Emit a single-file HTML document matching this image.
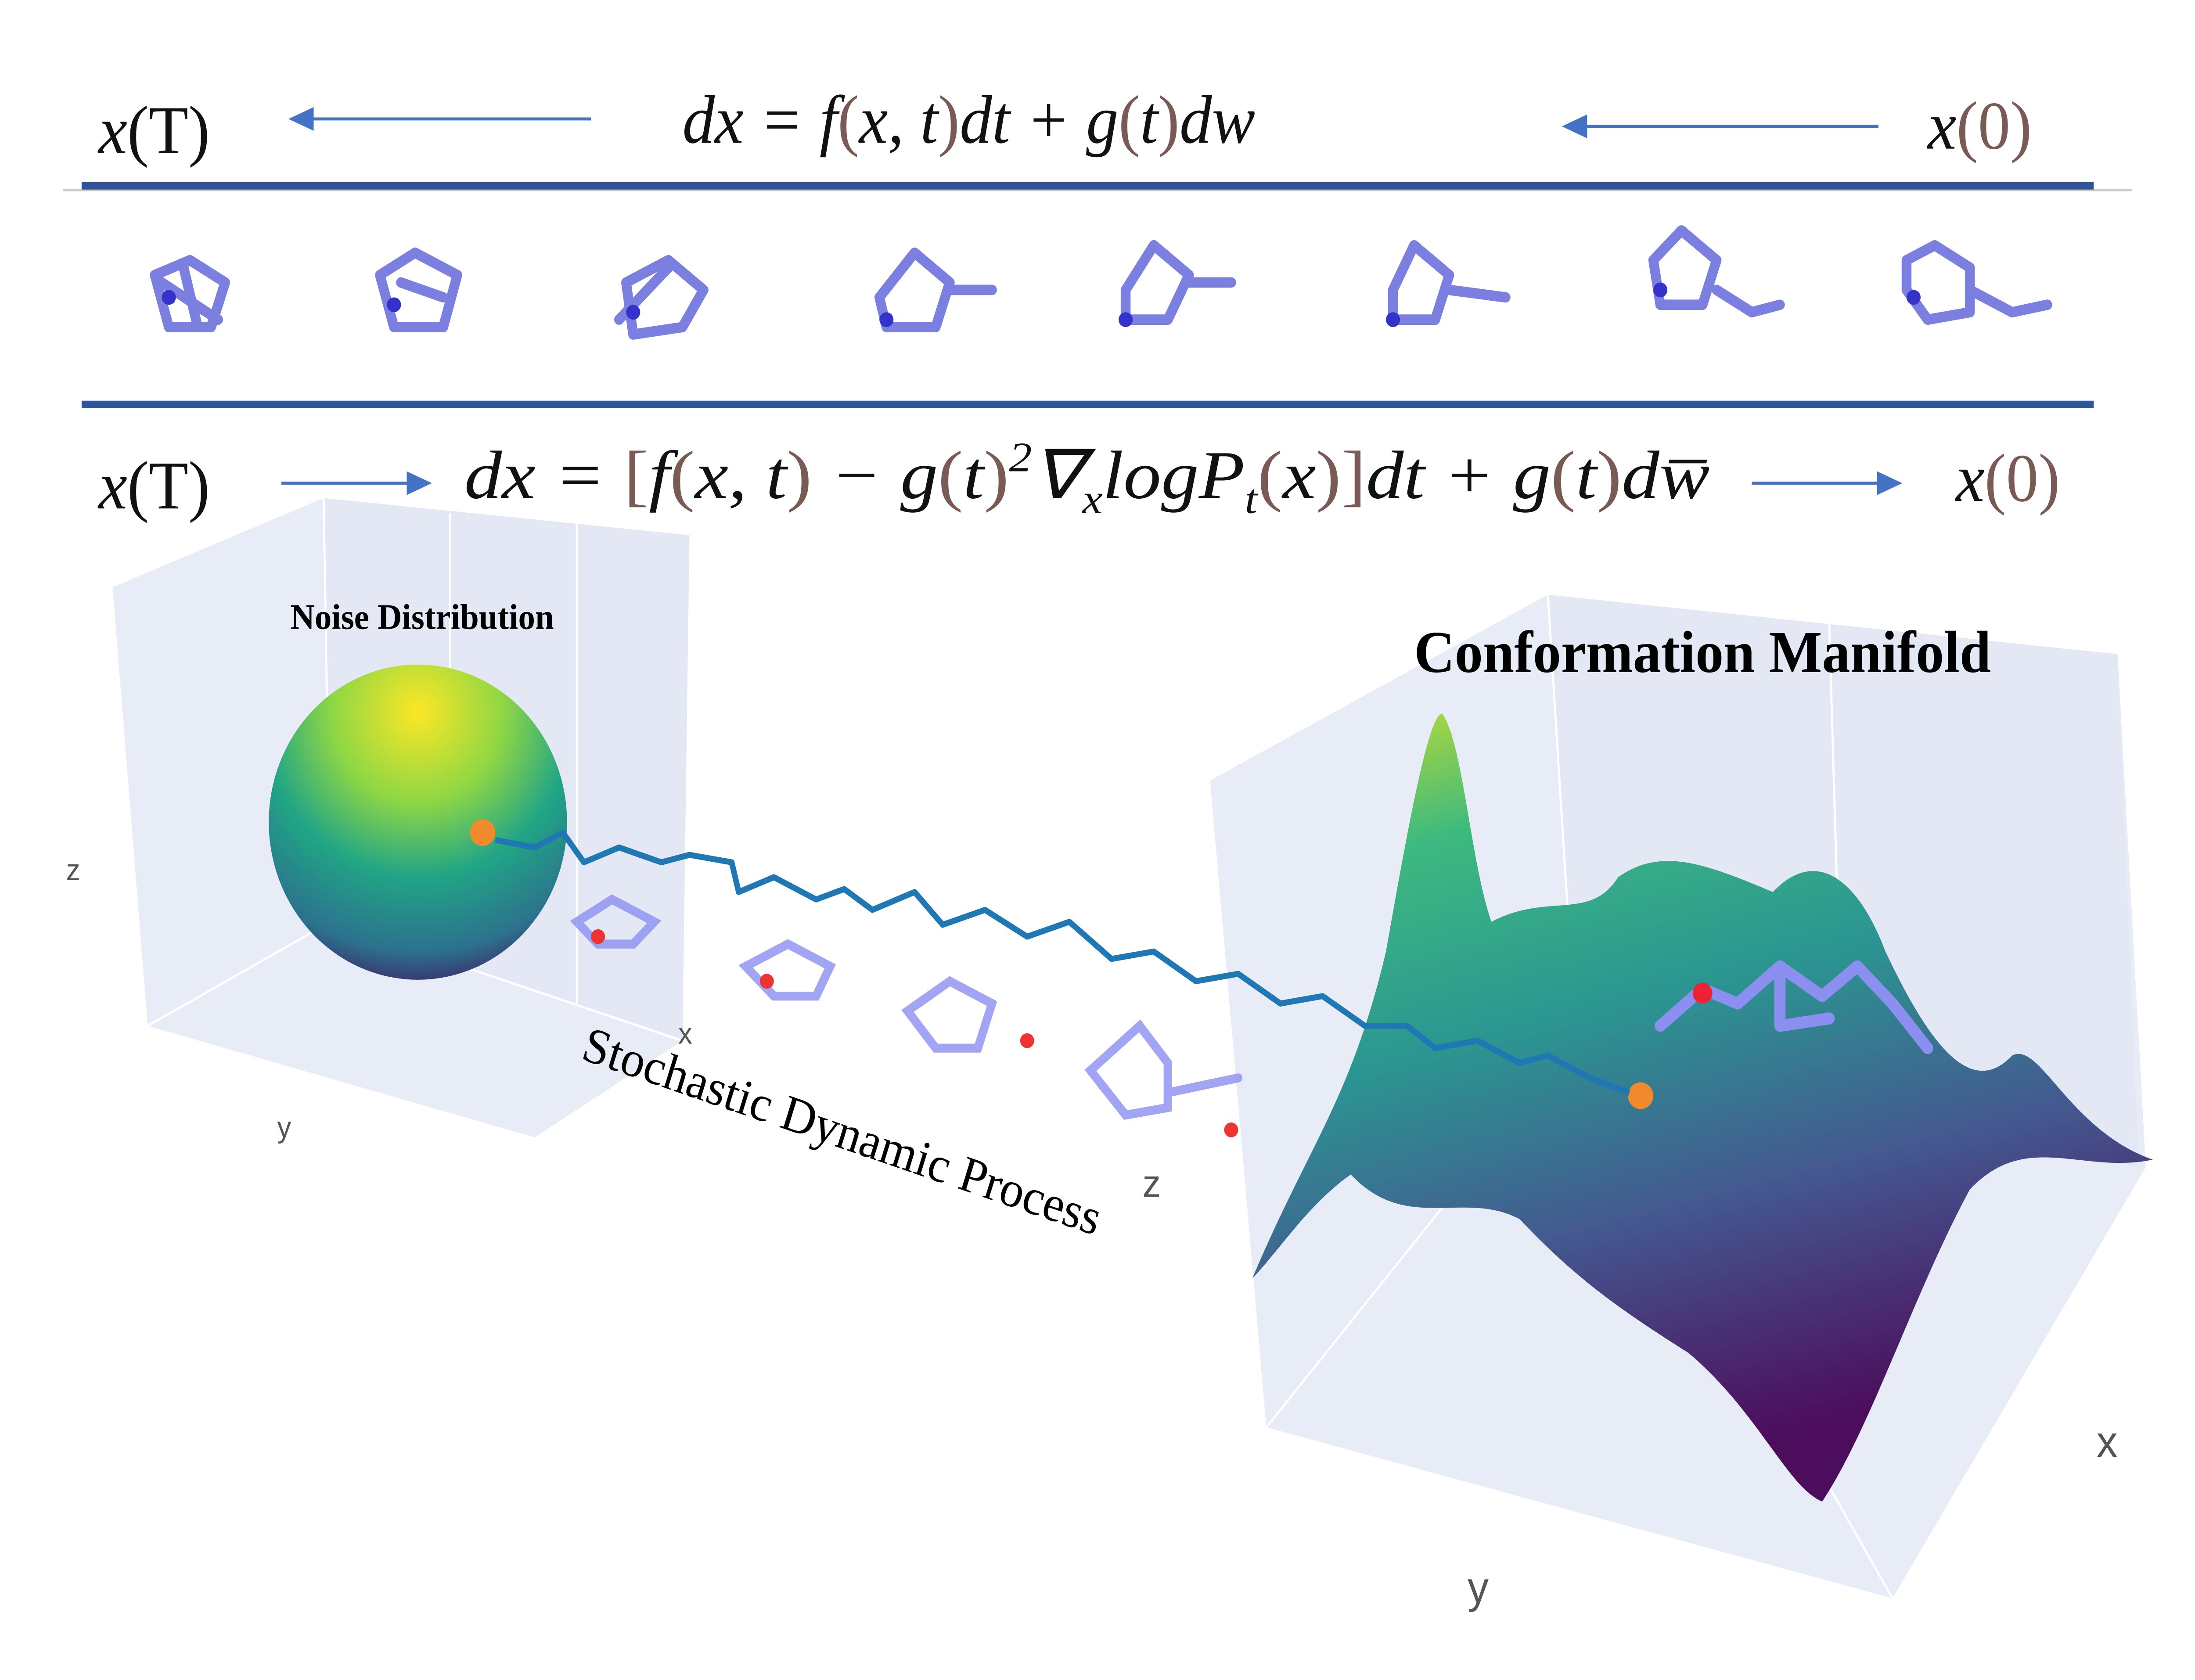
<!DOCTYPE html>
<html><head><meta charset="utf-8"><style>
html,body{margin:0;padding:0;background:#fff;width:100%;height:100%;overflow:hidden}
svg{display:block;position:fixed;left:0;top:0;width:100vw;height:100vh}
.eq{font-family:"Liberation Serif",serif;font-style:italic;font-size:46px;fill:#111}
.b{fill:#7a5a55;font-style:normal}
.ax{font-family:"Liberation Sans",sans-serif;font-size:20px;fill:#555}
</style></head><body>
<svg viewBox="0 0 1560 1130" preserveAspectRatio="none" xmlns="http://www.w3.org/2000/svg">
<defs>
<radialGradient id="sph" cx="0.5" cy="0.15" r="0.95">
<stop offset="0" stop-color="#fde725"/><stop offset="0.3" stop-color="#8fd744"/>
<stop offset="0.55" stop-color="#21a585"/><stop offset="0.8" stop-color="#2c728e"/><stop offset="1" stop-color="#440154"/>
</radialGradient>
<linearGradient id="surf" x1="0" y1="0" x2="0.3" y2="1">
<stop offset="0" stop-color="#c8e020"/><stop offset="0.2" stop-color="#35b779"/>
<stop offset="0.45" stop-color="#21918c"/><stop offset="0.7" stop-color="#3b528b"/><stop offset="1" stop-color="#440154"/>
</linearGradient>
<marker id="ar" markerWidth="10" markerHeight="10" refX="8" refY="5" orient="auto"><path d="M0,1 L9,5 L0,9 z" fill="#4472c4"/></marker>
</defs>
<rect width="1560" height="1130" fill="#fff"/>
<text x="70" y="103" class="eq">x<tspan style="font-style:normal">(T)</tspan></text>
<line x1="420" y1="80" x2="207" y2="80" stroke="#4472c4" stroke-width="2" marker-end="url(#ar)"/>
<text x="485" y="96" class="eq">dx = f<tspan class="b">(</tspan>x, t<tspan class="b">)</tspan>dt + g<tspan class="b">(</tspan>t<tspan class="b">)</tspan>dw</text>
<line x1="1335" y1="85" x2="1112" y2="85" stroke="#4472c4" stroke-width="2" marker-end="url(#ar)"/>
<text x="1370" y="100" class="eq">x<tspan class="b">(0)</tspan></text>
<line x1="45" y1="128" x2="1515" y2="128" stroke="#ccc" stroke-width="1.5"/>
<line x1="58" y1="125" x2="1488" y2="125" stroke="#2f5597" stroke-width="5"/>
<g stroke="#7b7fe0" stroke-width="7" fill="none" stroke-linecap="round" stroke-linejoin="round">
<path d="M110,185 l25,-10 l25,15 l-10,30 l-30,0 z M115,190 l40,25 M130,178 l10,40"/>
<path d="M270,185 l25,-15 l30,15 l-10,35 l-35,0 z M285,190 l30,10"/>
<path d="M445,190 l30,-15 l25,20 l-15,25 l-35,5 z M440,215 l35,-35"/>
<path d="M625,200 l25,-30 l25,20 l-10,30 l-35,0 z M675,195 l30,0"/>
<path d="M800,195 l20,-30 l25,20 l-15,30 l-30,0 z M845,190 l30,0"/>
<path d="M990,195 l15,-30 l25,20 l-10,30 l-30,0 z M1030,195 l40,5"/>
<path d="M1175,175 l20,-20 l25,20 l-10,30 l-30,0 z M1220,195 l25,15 l20,-5"/>
<path d="M1355,175 l20,-10 l25,15 l0,30 l-30,5 l-15,-20 z M1400,195 l30,15 l25,-5"/>
</g>
<g fill="#3333cc"><circle cx="120" cy="200" r="5"/><circle cx="280" cy="205" r="5"/><circle cx="450" cy="210" r="5"/><circle cx="630" cy="215" r="5"/><circle cx="800" cy="215" r="5"/><circle cx="990" cy="215" r="5"/><circle cx="1180" cy="195" r="5"/><circle cx="1360" cy="200" r="5"/></g>
<line x1="58" y1="272" x2="1488" y2="272" stroke="#2f5597" stroke-width="5"/>
<text x="70" y="342" class="eq">x<tspan style="font-style:normal">(T)</tspan></text>
<line x1="200" y1="325" x2="305" y2="325" stroke="#4472c4" stroke-width="2" marker-end="url(#ar)"/>
<text x="330" y="335" class="eq" textLength="885" lengthAdjust="spacingAndGlyphs">dx = <tspan class="b">[</tspan>f<tspan class="b">(</tspan>x, t<tspan class="b">)</tspan> − g<tspan class="b">(</tspan>t<tspan class="b">)</tspan><tspan style="font-size:28px" dy="-18">2</tspan><tspan dy="18">∇</tspan><tspan style="font-size:28px" dy="10">x</tspan><tspan dy="-10">logP</tspan><tspan style="font-size:28px" dy="10">t</tspan><tspan class="b" dy="-10">(</tspan>x<tspan class="b">)]</tspan>dt + g<tspan class="b">(</tspan>t<tspan class="b">)</tspan>dw̅</text>
<line x1="1245" y1="325" x2="1350" y2="325" stroke="#4472c4" stroke-width="2" marker-end="url(#ar)"/>
<text x="1390" y="337" class="eq">x<tspan class="b">(0)</tspan></text>
<polygon points="80,395 230,335 490,360 485,700 380,765 105,690" fill="#e8ecf6"/>
<polygon points="230,335 490,360 485,700 235,620" fill="#e3e8f4"/>
<g stroke="#fff" stroke-width="1.5" fill="none"><line x1="230" y1="335" x2="235" y2="620"/><line x1="235" y1="620" x2="105" y2="690"/><line x1="235" y1="620" x2="485" y2="700"/><line x1="320" y1="345" x2="320" y2="650"/><line x1="410" y1="352" x2="410" y2="675"/></g>
<text x="300" y="423" text-anchor="middle" style="font-family:'Liberation Serif',serif;font-weight:bold;font-size:24px">Noise Distribution</text>
<circle cx="297" cy="553" r="106" fill="url(#sph)"/>
<circle cx="343" cy="560" r="9" fill="#f08a2c"/>
<text x="47" y="592" class="ax">z</text><text x="482" y="702" class="ax">x</text><text x="197" y="765" class="ax">y</text>
<polygon points="860,525 1100,400 1505,440 1525,785 1345,1075 900,960" fill="#e8ecf6"/>
<polygon points="1100,400 1505,440 1520,785 1120,700" fill="#e3e8f4"/>
<g stroke="#fff" stroke-width="1.5" fill="none"><line x1="1100" y1="400" x2="1120" y2="700"/><line x1="1120" y1="700" x2="900" y2="960"/><line x1="1120" y1="700" x2="1345" y2="1075"/><line x1="1300" y1="418" x2="1310" y2="740"/></g>
<text x="1210" y="452" text-anchor="middle" style="font-family:'Liberation Serif',serif;font-weight:bold;font-size:40px">Conformation Manifold</text>
<path d="M890,860 C930,770 960,740 985,640 C1000,560 1015,480 1025,480 C1040,500 1045,580 1060,620 C1100,600 1130,620 1150,590 C1180,570 1210,580 1260,600 C1290,570 1320,590 1340,640 C1370,700 1400,740 1430,710 C1450,700 1470,760 1530,780 C1480,790 1440,760 1400,800 C1360,870 1330,960 1295,1010 C1270,1000 1250,950 1200,910 C1150,880 1120,860 1080,820 C1040,800 1000,830 960,790 C930,810 910,840 890,860 Z" fill="url(#surf)" opacity="0.95"/>
<g stroke="#8a8ff0" stroke-width="8" fill="none" stroke-linecap="round" stroke-linejoin="round">
<path d="M1180,690 l30,-25 l25,10 l30,-25 l30,20 l25,-20 l25,25 l25,30 M1265,650 l0,40 l35,-5"/>
</g>
<circle cx="1210" cy="668" r="7" fill="#e23"/>
<circle cx="1166" cy="737" r="9" fill="#f08a2c"/>
<text x="1490" y="980" style="font-family:'Liberation Sans',sans-serif;font-size:30px;fill:#555">x</text>
<text x="1043" y="1078" style="font-family:'Liberation Sans',sans-serif;font-size:30px;fill:#555">y</text>
<text x="812" y="805" style="font-family:'Liberation Sans',sans-serif;font-size:26px;fill:#555">z</text>
<polyline fill="none" stroke="#1f77b4" stroke-width="4" stroke-linejoin="round" points="352,565 380,570 400,560 415,580 440,570 470,580 490,575 520,580 525,600 550,590 580,605 600,598 620,612 650,600 670,622 700,612 730,630 760,620 790,645 820,640 850,660 880,655 910,675 940,670 970,690 1000,690 1020,705 1050,700 1080,715 1100,710 1130,725 1158,735"/>
<g stroke="#8a8ff0" stroke-width="6" fill="none" opacity="0.8" stroke-linecap="round">
<path d="M410,620 l25,-15 l30,15 l-15,15 l-25,0 z"/><path d="M530,650 l30,-15 l30,15 l-10,20 l-30,0 z"/>
<path d="M645,680 l30,-20 l30,15 l-10,30 l-30,0 z"/><path d="M775,720 l35,-30 l20,25 l0,30 l-30,5 z M830,735 l50,-10"/>
</g>
<g fill="#e33"><circle cx="425" cy="630" r="5"/><circle cx="545" cy="660" r="5"/><circle cx="730" cy="700" r="5"/><circle cx="875" cy="760" r="5"/></g>
<text transform="translate(412,712) rotate(18)" style="font-family:'Liberation Serif',serif;font-size:34px">Stochastic  Dynamic  Process</text>
</svg>
</body></html>
